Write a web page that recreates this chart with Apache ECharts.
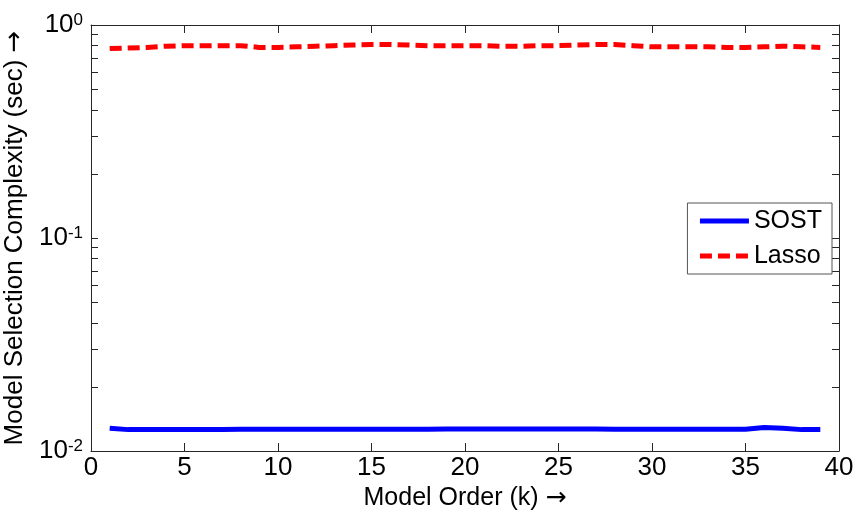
<!DOCTYPE html>
<html><head><meta charset="utf-8">
<script src="https://cdn.jsdelivr.net/npm/echarts@6/dist/echarts.min.js"></script>
<style>html,body{margin:0;padding:0;background:#fff}#c{width:854px;height:514px}</style>
</head><body><div id="c"></div>
<script>
const kValues = [1,2,3,4,5,6,7,8,9,10,11,12,13,14,15,16,17,18,19,20,21,22,23,24,25,26,27,28,29,30,31,32,33,34,35,36,37,38,39];
const sostTimes = [0.0128,0.0126,0.0126,0.0126,0.0126,0.0126,0.0126,0.01265,0.01265,0.01265,0.01265,0.01265,0.01265,0.01265,0.01265,0.01265,0.01265,0.01265,0.0127,0.0127,0.0127,0.0127,0.0127,0.0127,0.0127,0.0127,0.0127,0.01265,0.01265,0.01265,0.01265,0.01265,0.01265,0.01265,0.01265,0.0129,0.0128,0.0126,0.0126];
const lassoTimes = [0.775,0.78,0.785,0.795,0.80,0.80,0.80,0.80,0.785,0.785,0.79,0.795,0.80,0.805,0.81,0.81,0.805,0.80,0.80,0.80,0.80,0.795,0.795,0.80,0.80,0.805,0.81,0.81,0.80,0.79,0.79,0.79,0.79,0.785,0.785,0.79,0.795,0.79,0.785];
const xTicks = [0,5,10,15,20,25,30,35,40];
const yMajor = [0.01,0.1,1];
const yMinorTicks = [0.01,0.02,0.03,0.04,0.05,0.06,0.07,0.08,0.09,0.1,0.2,0.3,0.4,0.5,0.6,0.7,0.8,0.9,1];
const seriesNames = ['SOST','Lasso'];
const xTitle = 'Model Order (k)';
const yTitle = 'Model Selection Complexity (sec)';

const FONT = 'Liberation Sans, Arial, sans-serif';
const AX = '#262626';
const chart = echarts.init(document.getElementById('c'), null, {renderer:'canvas'});

function yLabel(v){
  const e = Math.round(Math.log10(v));
  return '{b|10}{s|' + e + '}';
}
const yRich = {
  b:{fontSize:26, fontFamily:FONT, color:'#000', verticalAlign:'bottom', lineHeight:26},
  s:{fontSize:17, fontFamily:FONT, color:'#000', verticalAlign:'top', lineHeight:17, padding:[0,0,16,0]}
};

function yAxisCfg(extra){
  return Object.assign({
    type:'log', logBase:10, min:0.01, max:1,
    axisLine:{show:true, onZero:false, lineStyle:{color:AX, width:1}},
    axisTick:{show:true, inside:true, length:7, customValues:yMinorTicks.slice(), lineStyle:{color:AX, width:1}},
    splitLine:{show:false}, minorTick:{show:false}
  }, extra);
}
function xAxisCfg(extra){
  return Object.assign({
    type:'value', min:0, max:40, interval:5,
    axisLine:{show:true, onZero:false, lineStyle:{color:AX, width:1}},
    axisTick:{show:true, inside:true, length:8, lineStyle:{color:AX, width:1}},
    splitLine:{show:false}
  }, extra);
}

chart.setOption({
  animation:false,
  backgroundColor:'#fff',
  grid:{left:91, right:15, top:25, bottom:63, containLabel:false, outerBoundsMode:'none'},
  legend:{
    data:seriesNames.map(n=>({name:n})),
    orient:'vertical', right:22, top:203,
    itemWidth:49, itemHeight:14, itemGap:9,
    backgroundColor:'#fff', borderColor:'#555', borderWidth:1,
    padding:[5,10,5,10],
    itemStyle:{opacity:0},
    lineStyle:{width:5},
    textStyle:{fontSize:25, fontFamily:FONT, color:'#000', lineHeight:26}
  },
  xAxis:[
    xAxisCfg({position:'bottom',
      name:'{t|' + xTitle + ' }{a|\u2192}', nameLocation:'middle', nameGap:32,
      nameTextStyle:{rich:{t:{fontSize:25, fontFamily:FONT, color:'#000'}, a:{fontSize:25, fontFamily:'DejaVu Sans', color:'#000'}}},
      axisLabel:{fontSize:26, fontFamily:FONT, color:'#000', margin:4, customValues:xTicks}}),
    xAxisCfg({position:'top', axisLabel:{show:false}})
  ],
  yAxis:[
    yAxisCfg({position:'left',
      name:'{t|' + yTitle + ' }{a|\u2192}', nameLocation:'middle', nameGap:46, nameRotate:90,
      nameTextStyle:{rich:{t:{fontSize:26, fontFamily:FONT, color:'#000'}, a:{fontSize:26, fontFamily:'DejaVu Sans', color:'#000'}}},
      axisLabel:{show:true, customValues:yMajor, formatter:yLabel, rich:yRich, margin:8}}),
    yAxisCfg({position:'right', axisLabel:{show:false}})
  ],
  series:[
    {name:seriesNames[0], type:'line', xAxisIndex:0, yAxisIndex:0, symbol:'none',
     data:kValues.map((k,i)=>[k, sostTimes[i]]),
     lineStyle:{color:'#0000ff', width:5}, itemStyle:{color:'#0000ff'}},
    {name:seriesNames[1], type:'line', xAxisIndex:0, yAxisIndex:0, symbol:'none',
     data:kValues.map((k,i)=>[k, lassoTimes[i]]),
     lineStyle:{color:'#ff0000', width:5, type:[12,6]}, itemStyle:{color:'#ff0000'}}
  ]
});
</script></body></html>
